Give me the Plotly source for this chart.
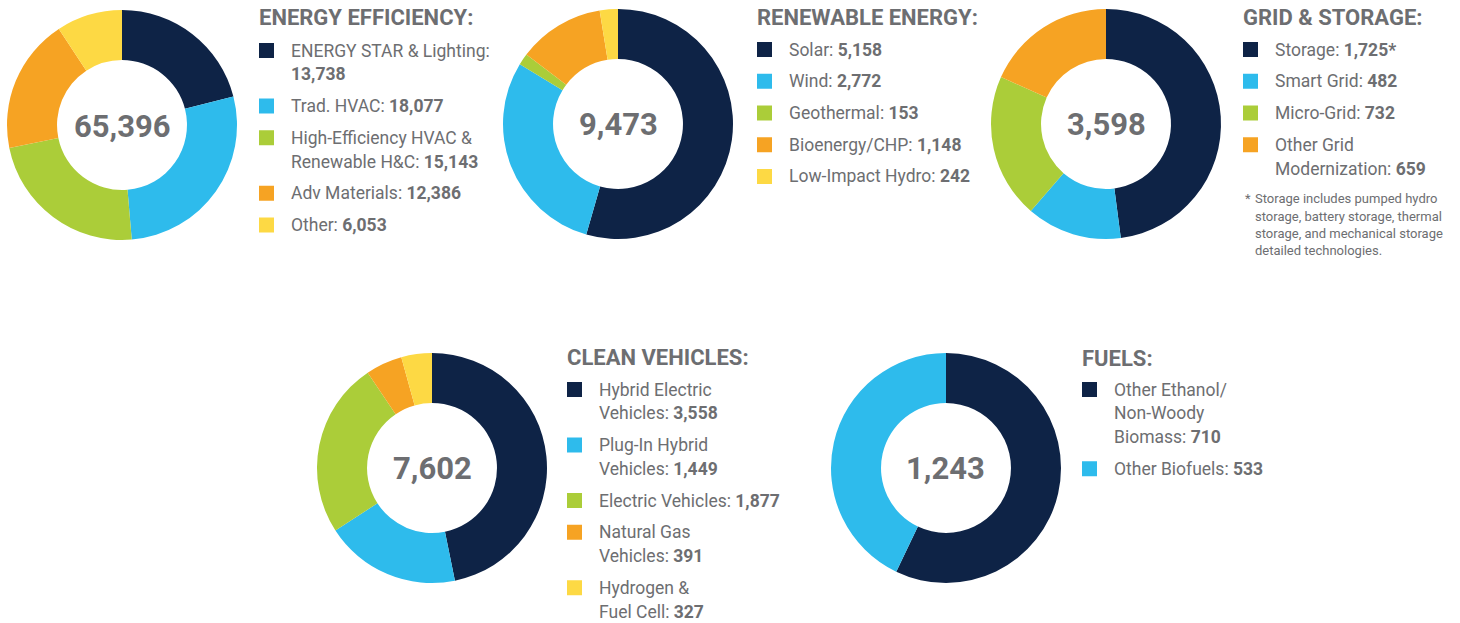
import plotly.graph_objects as go

W, H = 1460, 623

# --- data ---
ee_labels = ["ENERGY STAR & Lighting:\n", "Trad. HVAC:", "High-Efficiency HVAC &\nRenewable H&C:",
             "Adv Materials:", "Other:"]
ee_values = [13738, 18077, 15143, 12386, 6053]

re_labels = ["Solar:", "Wind:", "Geothermal:", "Bioenergy/CHP:", "Low-Impact Hydro:"]
re_values = [5158, 2772, 153, 1148, 242]

gs_labels = ["Storage:", "Smart Grid:", "Micro-Grid:", "Other Grid\nModernization:"]
gs_values = [1725, 482, 732, 659]
gs_marks = ["*", "", "", ""]

cv_labels = ["Hybrid Electric\nVehicles:", "Plug-In Hybrid\nVehicles:", "Electric Vehicles:",
             "Natural Gas\nVehicles:", "Hydrogen &\nFuel Cell:"]
cv_values = [3558, 1449, 1877, 391, 327]

fu_labels = ["Other Ethanol/\nNon-Woody\nBiomass:", "Other Biofuels:"]
fu_values = [710, 533]

titles = ["ENERGY EFFICIENCY:", "RENEWABLE ENERGY:", "GRID & STORAGE:", "CLEAN VEHICLES:", "FUELS:"]
totals = [65396, 9473, 3598, 7602, 1243]

footnote = ["Storage includes pumped hydro", "storage, battery storage, thermal",
            "storage, and mechanical storage", "detailed technologies."]

colors = ["#0e2346", "#2ebbec", "#abcd39", "#f6a323", "#fdd944"]
GREY = "#6d6e71"
FONT = "Roboto, Liberation Sans, sans-serif"

groups = [
    dict(labels=ee_labels, values=ee_values, marks=None, cx=122, cy=125, lx=259, ty=9, iy=44),
    dict(labels=re_labels, values=re_values, marks=None, cx=618, cy=124, lx=757, ty=9, iy=43),
    dict(labels=gs_labels, values=gs_values, marks=gs_marks, cx=1106, cy=124, lx=1243, ty=9, iy=43),
    dict(labels=cv_labels, values=cv_values, marks=None, cx=432, cy=468, lx=567, ty=349, iy=383),
    dict(labels=fu_labels, values=fu_values, marks=None, cx=946, cy=468, lx=1082, ty=350, iy=383),
]

R = 115
LINE_H = 23.75
GAP = 8


def px(x):
    return x / W


def py(y):
    return 1 - y / H


fig = go.Figure()
annotations = []
shapes = []

for g, title, total in zip(groups, titles, totals):
    fig.add_trace(go.Pie(
        values=g["values"],
        labels=[l.replace("\n", " ") for l in g["labels"]],
        marker=dict(colors=colors[:len(g["values"])], line=dict(width=0)),
        hole=0.565, sort=False, direction="clockwise", rotation=0,
        textinfo="none", hovertemplate="%{label} %{value:,}<extra></extra>",
        domain=dict(x=[px(g["cx"] - R), px(g["cx"] + R)], y=[py(g["cy"] + R), py(g["cy"] - R)]),
        showlegend=False,
    ))
    # total in the hole
    annotations.append(dict(
        x=px(g["cx"]), y=py(g["cy"] + 1), xanchor="center", yanchor="middle",
        text=f"<b>{total:,}</b>", showarrow=False,
        font=dict(family=FONT, size=31, color=GREY),
    ))
    # group title
    annotations.append(dict(
        x=px(g["lx"] - 2), y=py(g["ty"] + 8.5), xanchor="left", yanchor="middle",
        text=f"<b>{title}</b>", showarrow=False,
        font=dict(family=FONT, size=22, color=GREY),
    ))
    # legend items
    top = g["iy"]
    for i, (lab, val) in enumerate(zip(g["labels"], g["values"])):
        mark = g["marks"][i] if g["marks"] else ""
        lines = lab.split("\n")
        for j, line in enumerate(lines):
            txt = line
            if j == len(lines) - 1:
                txt = (line + " " if line else "") + f"<b>{val:,}{mark}</b>"
            annotations.append(dict(
                x=px(g["lx"] + 31.5 - 2), y=py(top + j * LINE_H + 6.5), xanchor="left", yanchor="middle",
                text=txt, showarrow=False,
                font=dict(family=FONT, size=17.5, color=GREY),
            ))
        shapes.append(dict(
            type="rect", xref="paper", yref="paper",
            x0=px(g["lx"]), x1=px(g["lx"] + 15), y0=py(top - 1), y1=py(top + 14),
            fillcolor=colors[i], line=dict(width=0),
        ))
        top += len(lines) * LINE_H + GAP

# footnote under grid & storage legend
annotations.append(dict(
    x=px(1243), y=py(199), xanchor="left", yanchor="middle", text="*", showarrow=False,
    font=dict(family=FONT, size=13, color=GREY),
))
for k, line in enumerate(footnote):
    annotations.append(dict(
        x=px(1253), y=py(199 + k * 17.3), xanchor="left", yanchor="middle", text=line, showarrow=False,
        font=dict(family=FONT, size=13, color=GREY),
    ))

fig.update_layout(
    width=W, height=H,
    margin=dict(l=0, r=0, t=0, b=0),
    paper_bgcolor="white", plot_bgcolor="white",
    annotations=annotations, shapes=shapes,
)

# page body has a default 8px margin; drop it so the figure sits at the window corner
fig.write_html("out.html", config={"displayModeBar": False},
               post_script="document.body.style.margin='0px';")
